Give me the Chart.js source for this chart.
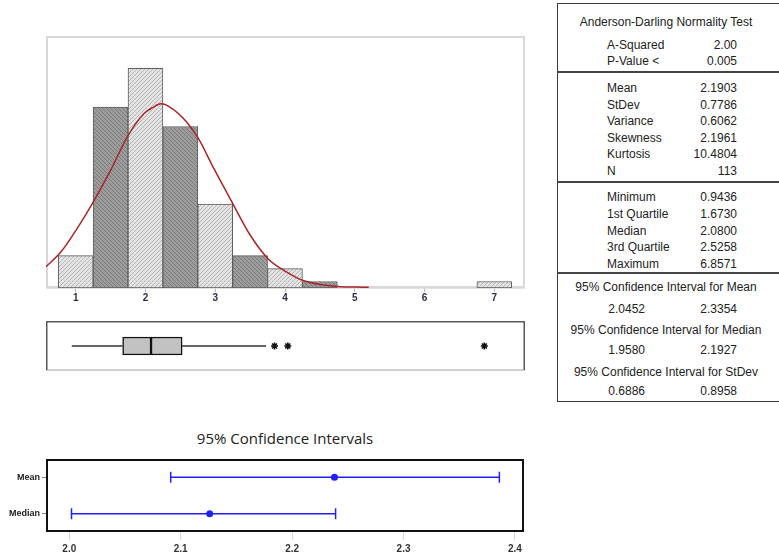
<!DOCTYPE html>
<html>
<head>
<meta charset="utf-8">
<script src="https://cdn.jsdelivr.net/npm/chart.js@4.4.0/dist/chart.umd.min.js"></script>
<style>
html, body { margin: 0; padding: 0; background: #fff; width: 779px; height: 558px; overflow: hidden; }
body { position: relative; font-family: "Liberation Sans", Arial, sans-serif; color: #222; }
canvas { position: absolute; }
#stats { position: absolute; left: 557px; top: 3px; width: 240px; height: 399px; border: 1.5px solid #3a3a3a; box-sizing: border-box; }
.rule { position: absolute; left: 557px; width: 240px; height: 2px; background: #444; }
.t { position: absolute; font-size: 12px; line-height: 14px; white-space: nowrap; color: #222; }
#ciTitle { position: absolute; left: 285px; top: 438px; transform: translate(-50%, -50%); font-family: "Open Sans", "Liberation Sans", sans-serif; font-size: 15px; font-weight: 500; color: #222; white-space: nowrap; }
</style>
</head>
<body>
<canvas id="hist" width="479" height="272" style="left:46px;top:36px"></canvas>
<canvas id="box" width="479" height="50" style="left:46px;top:321px"></canvas>
<div id="ciTitle">95% Confidence Intervals</div>
<canvas id="ci" width="540" height="108" style="left:0px;top:450px"></canvas>
<div id="stats"></div>
<script>
// histogram (bin centres, width 0.5) and fitted curve
const BIN_CENTERS = [1, 1.5, 2, 2.5, 3, 3.5, 4, 4.5, 7];
const BIN_COUNTS = [5, 28, 34, 25, 13, 5, 3, 1, 1];
const CURVE_X = [0.575, 0.79, 1.02, 1.24, 1.5, 1.74, 1.98, 2.1, 2.22, 2.35, 2.59, 2.76, 2.97, 3.24, 3.5, 3.76, 4.02, 4.25, 4.5, 4.76, 5.0, 5.2];
const CURVE_Y = [3.3, 5.6, 9.2, 13.1, 18.2, 23.4, 27.0, 27.9, 28.5, 28.0, 25.7, 23.1, 18.7, 13.3, 8.2, 4.5, 2.5, 1.2, 0.55, 0.25, 0.15, 0.1];
const X_TICKS = [1, 2, 3, 4, 5, 6, 7];

// boxplot
const BOX_MIN = 0.9436;
const BOX_Q1 = 1.6730;
const BOX_MEDIAN = 2.0800;
const BOX_Q3 = 2.5258;
const BOX_WHISKER_HIGH = 3.73;
const OUTLIERS = [3.85, 4.04, 6.8571];

// confidence interval plot
const CI_ROWS = ['Mean', 'Median'];
const CI_LOW = [2.091, 2.002];
const CI_EST = [2.238, 2.126];
const CI_HIGH = [2.386, 2.239];
const CI_TICKS = [2.0, 2.1, 2.2, 2.3, 2.4];

// summary table
const AD_LABELS = ['A-Squared', 'P-Value <'];
const AD_VALUES = ['2.00', '0.005'];
const DESC_LABELS = ['Mean', 'StDev', 'Variance', 'Skewness', 'Kurtosis', 'N'];
const DESC_VALUES = ['2.1903', '0.7786', '0.6062', '2.1961', '10.4804', '113'];
const QUART_LABELS = ['Minimum', '1st Quartile', 'Median', '3rd Quartile', 'Maximum'];
const QUART_VALUES = ['0.9436', '1.6730', '2.0800', '2.5258', '6.8571'];
const CI_TITLES = ['95% Confidence Interval for Mean', '95% Confidence Interval for Median', '95% Confidence Interval for StDev'];
const CI_TABLE_LOW = ['2.0452', '1.9580', '0.6886'];
const CI_TABLE_HIGH = ['2.3354', '2.1927', '0.8958'];

const X_MIN = 0.5743, X_MAX = 7.44;
const BLUE = '#1f1fff';

function hatch(bg, line, dir) {
    let c = document.createElement('canvas');
    c.width = c.height = 4;
    let g = c.getContext('2d');
    g.fillStyle = bg;
    g.fillRect(0, 0, 4, 4);
    g.strokeStyle = line;
    g.lineWidth = 1;
    g.beginPath();
    if (dir > 0) {
        g.moveTo(-1, 5); g.lineTo(5, -1);
        g.moveTo(-3, 3); g.lineTo(3, -3);
        g.moveTo(1, 7); g.lineTo(7, 1);
    } else {
        g.moveTo(-1, -1); g.lineTo(5, 5);
        g.moveTo(-3, 1); g.lineTo(3, 7);
        g.moveTo(1, -3); g.lineTo(7, 3);
    }
    g.stroke();
    return g.createPattern(c, 'repeat');
}
const lightFill = hatch('#e4e4e4', '#b4b4b4', 1);
const darkFill = hatch('#9c9c9c', '#7c7c7c', -1);

function framePlugin(color, width, hook) {
    return {
        id: 'frame',
        [hook || 'afterDraw'](chart) {
            let ctx = chart.ctx, a = chart.chartArea;
            ctx.save();
            ctx.strokeStyle = color;
            ctx.lineWidth = width;
            ctx.strokeRect(a.left + width / 2, a.top + width / 2, a.width - width, a.height - width);
            ctx.restore();
        }
    };
}

const common = {
    animation: false,
    responsive: false,
    events: [],
    plugins: { legend: { display: false }, tooltip: { enabled: false } }
};

new Chart(document.getElementById('hist'), {
    type: 'bar',
    data: {
        datasets: [{
            type: 'line',
            data: CURVE_X.map((x, i) => ({ x: x, y: CURVE_Y[i] })),
            borderColor: '#a8252b',
            borderWidth: 1.5,
            pointRadius: 0,
            cubicInterpolationMode: 'monotone',
            order: 0
        }, {
            type: 'bar',
            data: BIN_CENTERS.map((x, i) => ({ x: x, y: BIN_COUNTS[i] })),
            backgroundColor: BIN_CENTERS.map(c => Math.round((c - 1) / 0.5) % 2 ? darkFill : lightFill),
            borderColor: '#5e5e5e',
            borderWidth: 1,
            borderSkipped: false,
            barPercentage: 1,
            categoryPercentage: 1,
            order: 1
        }]
    },
    options: Object.assign({}, common, {
        layout: { padding: 0, autoPadding: false },
        scales: {
            x: {
                type: 'linear', min: X_MIN, max: X_MAX, offset: false,
                afterBuildTicks: a => { a.ticks = X_TICKS.map(v => ({ value: v })); },
                afterFit: a => { a.height = 20; },
                grid: { drawOnChartArea: false, tickLength: 4, color: '#b8b8b8', offset: false },
                border: { color: '#c8c8c8', width: 1.5 },
                ticks: { padding: 0, maxRotation: 0, color: '#2a2f45', font: { family: 'Liberation Sans', size: 10, weight: 'bold' } }
            },
            y: { display: false, min: 0, max: 39 }
        }
    }),
    plugins: [framePlugin('#d8d8d8', 2, 'beforeDatasetsDraw')]
});

new Chart(document.getElementById('box'), {
    type: 'bar',
    data: {
        datasets: [{
            type: 'line',
            data: [{ x: BOX_MIN, y: 0 }, { x: BOX_Q1, y: 0 }],
            borderColor: '#333', borderWidth: 1.5, pointRadius: 0
        }, {
            type: 'line',
            data: [{ x: BOX_Q3, y: 0 }, { x: BOX_WHISKER_HIGH, y: 0 }],
            borderColor: '#333', borderWidth: 1.5, pointRadius: 0
        }, {
            type: 'bar', indexAxis: 'y', grouped: false,
            data: [{ x: [BOX_Q1, BOX_MEDIAN], y: 0 }],
            backgroundColor: '#c2c2c2', borderColor: '#111', borderWidth: 1.5, borderSkipped: false, barThickness: 18
        }, {
            type: 'bar', indexAxis: 'y', grouped: false,
            data: [{ x: [BOX_MEDIAN, BOX_Q3], y: 0 }],
            backgroundColor: '#c2c2c2', borderColor: '#111', borderWidth: 1.5, borderSkipped: false, barThickness: 18
        }, {
            type: 'scatter',
            data: OUTLIERS.map(x => ({ x: x, y: 0 })),
            pointStyle: 'star', pointRadius: 3.5, pointBorderWidth: 1.6, pointBorderColor: '#111', pointBackgroundColor: '#111'
        }]
    },
    options: Object.assign({}, common, {
        layout: { padding: 0, autoPadding: false },
        scales: {
            x: { type: 'linear', min: X_MIN, max: X_MAX, offset: false, grid: { offset: false }, display: false },
            y: { type: 'linear', min: -1, max: 1, offset: false, grid: { offset: false }, display: false }
        }
    }),
    plugins: [{
        id: 'boxFrame',
        afterDraw(chart) {
            let ctx = chart.ctx, a = chart.chartArea;
            ctx.save();
            ctx.lineWidth = 2;
            ctx.strokeStyle = '#d0d0d0';
            ctx.beginPath(); ctx.moveTo(a.left, a.bottom - 1); ctx.lineTo(a.right, a.bottom - 1); ctx.stroke();
            ctx.lineWidth = 1.5;
            ctx.strokeStyle = '#5a5a5a';
            ctx.beginPath();
            ctx.moveTo(a.left + 0.75, a.bottom - 1);
            ctx.lineTo(a.left + 0.75, a.top + 0.75);
            ctx.lineTo(a.right - 0.75, a.top + 0.75);
            ctx.lineTo(a.right - 0.75, a.bottom - 1);
            ctx.stroke();
            ctx.restore();
        }
    }]
});

new Chart(document.getElementById('ci'), {
    type: 'line',
    data: {
        datasets: CI_ROWS.map((r, i) => ({
            data: [{ x: CI_LOW[i], y: r }, { x: CI_HIGH[i], y: r }],
            borderColor: BLUE, borderWidth: 1.5,
            pointStyle: 'line', pointRotation: 90, pointRadius: 5.5,
            pointBorderColor: BLUE, pointBorderWidth: 1.5
        })).concat([{
            type: 'scatter',
            data: CI_ROWS.map((r, i) => ({ x: CI_EST[i], y: r })),
            pointRadius: 3.5, pointBackgroundColor: BLUE, pointBorderColor: BLUE, pointBorderWidth: 0
        }])
    },
    options: Object.assign({}, common, {
        layout: { padding: { top: 9, right: 16, left: 0, bottom: 0 }, autoPadding: false },
        scales: {
            x: {
                type: 'linear', min: 1.9791, max: 2.4081,
                afterBuildTicks: a => { a.ticks = CI_TICKS.map(v => ({ value: v })); },
                afterFit: a => { a.height = 26; },
                grid: { drawOnChartArea: false, tickLength: 8, color: '#dcdcdc' },
                border: { display: false },
                ticks: { padding: 3, maxRotation: 0, callback: v => v.toFixed(1), color: '#333', font: { family: 'Liberation Sans', size: 10, weight: 'bold' } }
            },
            y: {
                type: 'category', labels: CI_ROWS, offset: true,
                afterFit: a => { a.width = 46; },
                grid: { drawOnChartArea: false, tickLength: 4, color: '#888', offset: false },
                border: { display: false },
                ticks: { padding: 2, color: '#222', font: { family: 'Liberation Sans', size: 9, weight: 'bold' } }
            }
        }
    }),
    plugins: [framePlugin('#111', 2)]
});

// summary table text
function addText(txt, x, y, align) {
    let d = document.createElement('div');
    d.className = 't';
    d.textContent = txt;
    d.style.left = x + 'px';
    d.style.top = y + 'px';
    let tx = align === 'right' ? '-100%' : align === 'center' ? '-50%' : '0';
    d.style.transform = 'translate(' + tx + ', -50%)';
    document.body.appendChild(d);
}
function addRule(y) {
    let d = document.createElement('div');
    d.className = 'rule';
    d.style.top = (y - 1) + 'px';
    document.body.appendChild(d);
}

const LABEL_X = 607, VALUE_X = 737, CENTER_X = 666, LOW_X = 645;
addText('Anderson-Darling Normality Test', CENTER_X, 22, 'center');
AD_LABELS.forEach((l, i) => { addText(l, LABEL_X, 45 + i * 16, 'left'); addText(AD_VALUES[i], VALUE_X, 45 + i * 16, 'right'); });
addRule(72);
DESC_LABELS.forEach((l, i) => { addText(l, LABEL_X, 88 + i * 16.6, 'left'); addText(DESC_VALUES[i], VALUE_X, 88 + i * 16.6, 'right'); });
addRule(181.5);
QUART_LABELS.forEach((l, i) => { addText(l, LABEL_X, 197.3 + i * 16.7, 'left'); addText(QUART_VALUES[i], VALUE_X, 197.3 + i * 16.7, 'right'); });
addRule(272.5);
CI_TITLES.forEach((t, i) => {
    addText(t, CENTER_X, 287.3 + i * 42.2, 'center');
    addText(CI_TABLE_LOW[i], LOW_X, 308.5 + i * 41, 'right');
    addText(CI_TABLE_HIGH[i], VALUE_X, 308.5 + i * 41, 'right');
});
</script>
</body>
</html>
